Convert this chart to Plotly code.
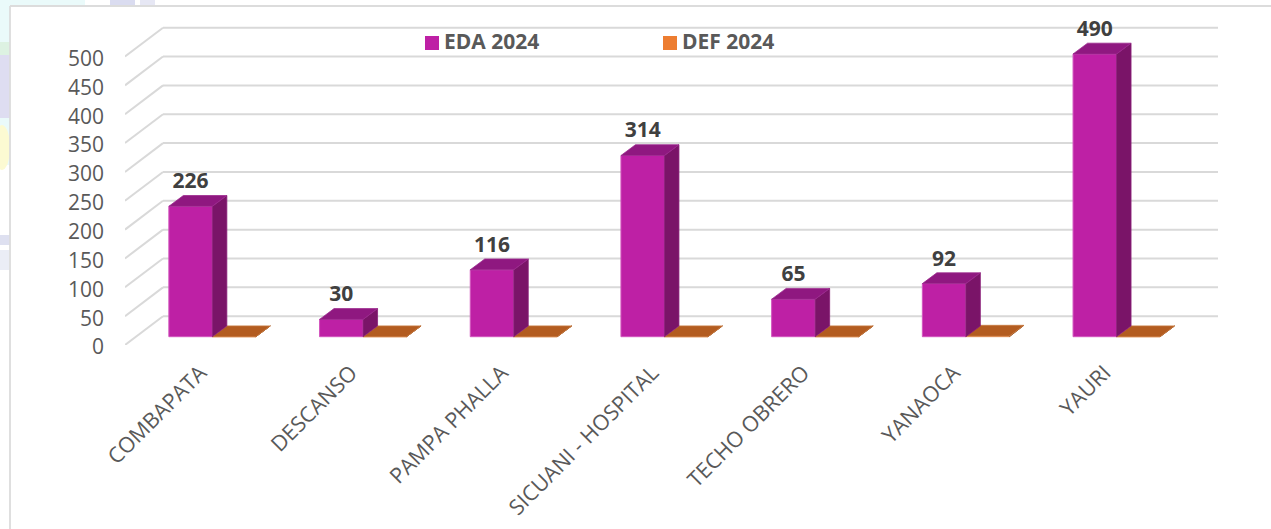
import plotly.graph_objects as go

categories = ["COMBAPATA", "DESCANSO", "PAMPA PHALLA", "SICUANI - HOSPITAL", "TECHO OBRERO", "YANAOCA", "YAURI"]
eda_2024 = [226, 30, 116, 314, 65, 92, 490]
def_2024 = [0, 0, 0, 0, 0, 1, 0]
y_ticks = [0, 50, 100, 150, 200, 250, 300, 350, 400, 450, 500]
series_names = ["EDA 2024", "DEF 2024"]

W, H = 1271, 529
L, R, T, B = 125, 1218, 8, 345
PX_X = 150.7           # px per category
PX_Y = 0.577           # px per value unit
x_range = [-0.5, -0.5 + (R - L) / PX_X]
y_range = [0, (B - T) / PX_Y]

# depth of the imitated 3D box, in axis units
wall_dx, wall_dy = 38 / PX_X, 28.8 / PX_Y
bar_shift_x, bar_shift_y = 12 / PX_X, 8.3 / PX_Y
box_dx, box_dy = 14.5 / PX_X, 10.8 / PX_Y
bar_w = 43.5 / PX_X
eda_off = bar_shift_x - bar_w
def_off = bar_shift_x

FONT = "Open Sans, sans-serif"
xs = list(range(len(categories)))


def faces(values, offset):
    side_x, side_y, top_x, top_y = [], [], [], []
    for i, v in zip(xs, values):
        x0 = i + offset
        x1 = x0 + bar_w
        y0 = bar_shift_y
        y1 = y0 + v
        side_x += [x1, x1 + box_dx, x1 + box_dx, x1, x1, None]
        side_y += [y0, y0 + box_dy, y1 + box_dy, y1, y0, None]
        top_x += [x0, x1, x1 + box_dx, x0 + box_dx, x0, None]
        top_y += [y1, y1, y1 + box_dy, y1 + box_dy, y1, None]
    return side_x, side_y, top_x, top_y


def poly(x, y, fill, line, name):
    return go.Scatter(x=x, y=y, mode="lines", fill="toself", fillcolor=fill,
                      line=dict(color=line, width=0.8), hoverinfo="skip",
                      showlegend=False, name=name)


fig = go.Figure()

# front faces
fig.add_trace(go.Bar(x=xs, y=def_2024, base=bar_shift_y, offset=def_off, width=bar_w, name=series_names[1],
                     marker=dict(color="#ED7D31", line=dict(color="#EFA06A", width=1)), showlegend=False))
fig.add_trace(go.Bar(x=xs, y=eda_2024, base=bar_shift_y, offset=eda_off, width=bar_w, name=series_names[0],
                     marker=dict(color="#BE20A5", line=dict(color="#D255BE", width=1)), showlegend=False))

# side and top faces
sx, sy, tx, ty = faces(def_2024, def_off)
fig.add_trace(poly(sx, sy, "#8F4A18", "#8F4A18", "DEF side"))
fig.add_trace(poly(tx, ty, "#B35C20", "#C87A40", "DEF top"))
sx, sy, tx, ty = faces(eda_2024, eda_off)
fig.add_trace(poly(sx, sy, "#7A1468", "#8A1E78", "EDA side"))
fig.add_trace(poly(tx, ty, "#8F1880", "#9C2A8E", "EDA top"))

# data labels
fig.add_trace(go.Scatter(
    x=[i + eda_off + bar_w / 2 for i in xs],
    y=[v + bar_shift_y + box_dy + 2 / PX_Y for v in eda_2024],
    mode="text", text=[str(v) for v in eda_2024], textposition="top center",
    textfont=dict(family=FONT, size=21, color="#404040", weight="bold"),
    cliponaxis=False, hoverinfo="skip", showlegend=False))

# 3D walls: grid lines on the back wall and on the side wall
GRID = dict(color="#D9D9D9", width=2)
shapes = []
for t in y_ticks:
    shapes.append(dict(type="line", xref="x", yref="y", layer="below", line=GRID,
                       x0=x_range[0] + wall_dx, x1=x_range[1], y0=t + wall_dy, y1=t + wall_dy))
    shapes.append(dict(type="line", xref="x", yref="y", layer="below", line=GRID,
                       x0=x_range[0], x1=x_range[0] + wall_dx, y0=t, y1=t + wall_dy))


def px(v):
    return (v - L) / (R - L)


def py(v):
    return (B - v) / (B - T)


def box(x0, y0, x1, y1, color, kind="rect"):
    return dict(type=kind, xref="paper", yref="paper", layer="below", line=dict(width=0),
                fillcolor=color, x0=px(x0), x1=px(x1), y0=py(y0), y1=py(y1))


# page backdrop around the white panel
shapes += [
    box(0, 0, 10, 165, "#EAFAFA"),
    box(0, 0, 85, 6, "#EAFAFA"),
    box(0, 42, 10, 55, "#DDF2E2"),
    box(0, 55, 10, 118, "#DEDDF1"),
    box(-6, 125, 10, 170, "#FCFAD2", "circle"),
    box(0, 235, 10, 245, "#DEE0F0"),
    box(0, 250, 9, 270, "#EBEDF6"),
    box(110, 0, 135, 6, "#DADCF0"),
    box(140, 0, 155, 6, "#E6E7F4"),
    dict(type="line", xref="paper", yref="paper", layer="below", line=dict(color="#DCDCDC", width=1.8),
         x0=px(10), x1=px(W), y0=py(6), y1=py(6)),
    dict(type="line", xref="paper", yref="paper", layer="below", line=dict(color="#DCDCDC", width=1.8),
         x0=px(10), x1=px(10), y0=py(6), y1=py(H)),
    # legend swatches
    box(425, 36, 439, 50, "#BE20A5"),
    box(663, 36, 677, 50, "#ED7D31"),
]
for s in shapes[-2:]:
    s["layer"] = "above"

legend_text = [
    dict(text=series_names[0], x=px(442), y=py(41), xref="paper", yref="paper", xanchor="left", yanchor="middle",
         showarrow=False, font=dict(family=FONT, size=21, color="#595959", weight="bold")),
    dict(text=series_names[1], x=px(680), y=py(41), xref="paper", yref="paper", xanchor="left", yanchor="middle",
         showarrow=False, font=dict(family=FONT, size=21, color="#595959", weight="bold")),
]

fig.update_layout(
    width=W, height=H, autosize=False,
    margin=dict(l=L, r=W - R, t=T, b=H - B, pad=0),
    paper_bgcolor="white", plot_bgcolor="rgba(0,0,0,0)",
    barmode="overlay", showlegend=False,
    shapes=shapes, annotations=legend_text,
    xaxis=dict(range=x_range, tickmode="array", tickvals=xs, ticktext=categories,
               tickangle=-45, showgrid=False, zeroline=False, showline=False, ticks="",
               ticklabelstandoff=10,
               tickfont=dict(family=FONT, size=21.5, color="#595959"), automargin=False, fixedrange=True),
    yaxis=dict(range=y_range, tickmode="array", tickvals=y_ticks, ticktext=[str(t) for t in y_ticks],
               showgrid=False, zeroline=False, showline=False, ticks="", ticklen=0,
               ticklabelstandoff=20, ticklabelshift=2,
               tickfont=dict(family=FONT, size=21, color="#595959"), automargin=False, fixedrange=True),
)

fig.write_html("out.html", config={"displayModeBar": False},
               post_script="document.body.style.margin='0';document.body.style.overflow='hidden';")
